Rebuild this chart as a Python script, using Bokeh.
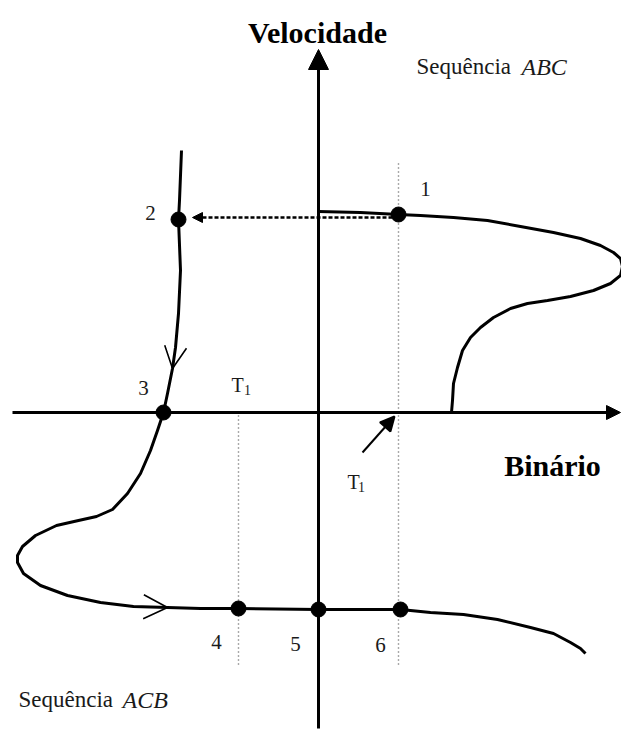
from bokeh.plotting import figure
from bokeh.models import Range1d, Arrow, NormalHead, OpenHead
from bokeh.core.properties import value
from bokeh.embed import file_html
from bokeh.resources import INLINE

# ---- data (torque / speed, arbitrary units, origin at axes crossing) ----
abc_torque = [0, 42, 80, 102, 135, 169, 202, 235, 262, 282, 295, 302, 304, 302, 292, 275, 252,
              229, 209, 192, 175, 162, 152, 144, 139, 135, 134, 133]
abc_speed = [201, 200, 198, 197, 195, 192, 186, 180, 174, 167, 160, 154, 146, 137, 129, 122, 116,
             112, 109, 104, 95, 85, 75, 62, 45, 29, 12, 0]

acb_torque = [-137, -139, -140, -138, -140, -143, -146, -151, -155, -161, -168, -178, -191, -206,
              -222, -240, -262, -283, -296, -301, -301, -295, -278, -251, -218, -185, -151, -118, -80,
              0, 82, 112, 145, 179, 212, 235, 252, 262, 267]
acb_speed = [262, 212, 193, 142, 99, 65, 44, 19, 0, -18, -38, -61, -81, -97,
             -104, -108, -113, -123, -134, -143, -150, -161, -173, -183, -190, -194, -195, -196, -196,
             -197, -197, -200, -202, -207, -215, -221, -230, -236, -241]

point_labels = ["1", "2", "3", "4", "5", "6"]
point_torque = [80, -140, -155, -80, 0, 82]
point_speed = [198, 193, 0, -196, -197, -197]

t1 = 80  # load torque T1

FONT = value("Liberation Serif")

p = figure(width=621, height=730, x_range=Range1d(-318, 303), y_range=Range1d(-318, 412),
           output_backend="svg", toolbar_location=None, min_border=0,
           x_axis_location=None, y_axis_location=None)
p.grid.visible = False
p.outline_line_color = None
p.background_fill_color = "white"
p.border_fill_color = "white"

# dotted T1 guides
p.segment(x0=[t1, -t1], y0=[249, -3], x1=[t1, -t1], y1=[-255, -253],
          line_color="#555555", line_width=1.4, line_dash="1 3")

# axes with arrowheads
p.add_layout(Arrow(end=NormalHead(size=20, fill_color="black", line_color="black"),
                   x_start=0, y_start=-316, x_end=0, y_end=363, line_width=3, line_color="black"))
p.add_layout(Arrow(end=NormalHead(size=14, fill_color="black", line_color="black"),
                   x_start=-306, y_start=0, x_end=302, y_end=0, line_width=3, line_color="black"))

# curves
p.line(abc_torque, abc_speed, line_color="black", line_width=3, line_join="round")
p.line(acb_torque, acb_speed, line_color="black", line_width=3, line_join="round")

# dashed transition arrow 1 -> 2
p.add_layout(Arrow(end=NormalHead(size=10, fill_color="black", line_color="black"),
                   x_start=point_torque[0], y_start=195, x_end=-126, y_end=195,
                   line_width=2.5, line_dash="4 2", line_color="black"))

# direction chevrons on ACB curve
p.add_layout(Arrow(end=OpenHead(size=22, line_width=1.6, line_color="black"),
                   x_start=-143, y_start=65, x_end=-146, y_end=44, line_width=0, line_alpha=0))
p.add_layout(Arrow(end=OpenHead(size=24, line_width=1.6, line_color="black"),
                   x_start=-185, y_start=-194, x_end=-151, y_end=-195, line_width=0, line_alpha=0))

# T1 pointer arrow
p.add_layout(Arrow(end=NormalHead(size=14, fill_color="black", line_color="black", line_width=2),
                   x_start=44, y_start=-40, x_end=76, y_end=-4, line_width=2, line_color="black"))

# operating points
p.scatter(point_torque, point_speed, size=15, color="black")

# numeric labels
lbl_x = [107, -168, -175, -102, -23, 62]
lbl_y = [224, 200, 25, -229, -231, -232]
p.text(x=lbl_x, y=lbl_y, text=point_labels, text_font=FONT, text_font_size="21px",
       text_align="center", text_baseline="middle", text_color="#1a1a1a")

# T1 labels
p.text(x=[-81, 35], y=[28, -69], text=["T", "T"], text_font=FONT, text_font_size="20px",
       text_align="center", text_baseline="middle", text_color="#1a1a1a")
p.text(x=[-71, 43], y=[23, -74], text=["1", "1"], text_font=FONT, text_font_size="14px",
       text_align="center", text_baseline="middle", text_color="#1a1a1a")

# titles
p.text(x=[-1], y=[380], text=["Velocidade"], text_font=FONT, text_font_size="30px",
       text_font_style="bold", text_align="center", text_baseline="alphabetic")
p.text(x=[234], y=[-53], text=["Binário"], text_font=FONT, text_font_size="30px",
       text_font_style="bold", text_align="center", text_baseline="alphabetic")

p.text(x=[98], y=[346], text=["Sequência"], text_font=FONT, text_font_size="23px",
       text_align="left", text_baseline="alphabetic", text_color="#1a1a1a")
p.text(x=[203], y=[346], text=["ABC"], text_font=FONT, text_font_size="24px", text_font_style="italic",
       text_align="left", text_baseline="alphabetic", text_color="#1a1a1a")
p.text(x=[-300], y=[-287], text=["Sequência"], text_font=FONT, text_font_size="23px",
       text_align="left", text_baseline="alphabetic", text_color="#1a1a1a")
p.text(x=[-196], y=[-287], text=["ACB"], text_font=FONT, text_font_size="24px", text_font_style="italic",
       text_align="left", text_baseline="alphabetic", text_color="#1a1a1a")

open("out.html", "w").write(file_html(p, INLINE))
